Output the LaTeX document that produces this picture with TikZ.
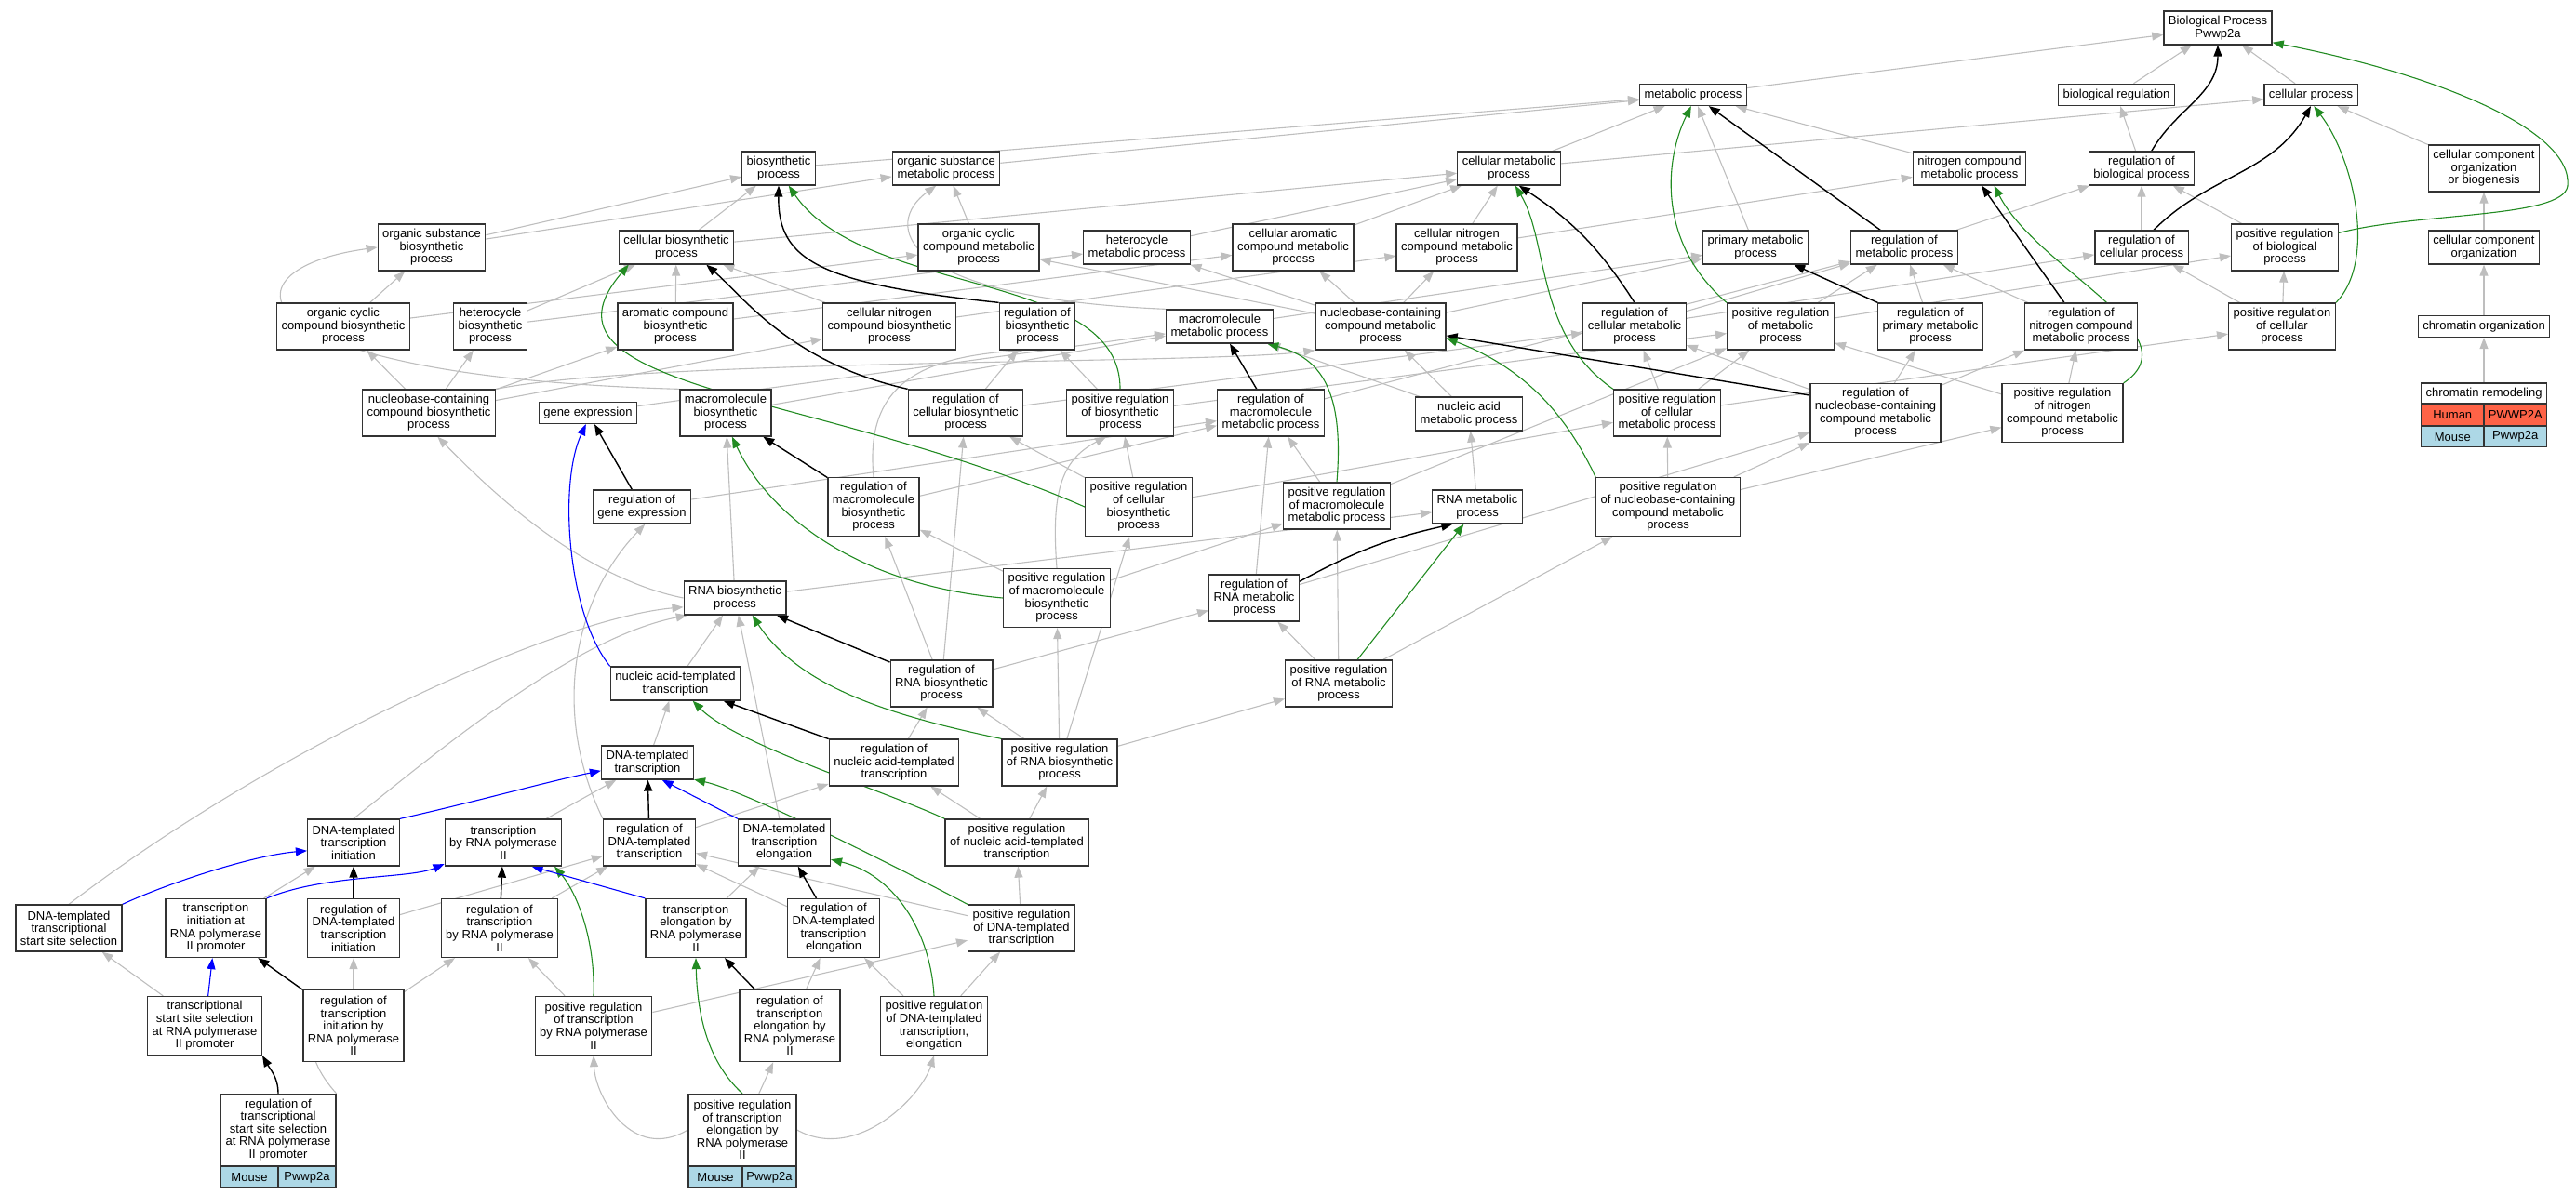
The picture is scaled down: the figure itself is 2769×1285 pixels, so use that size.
\documentclass[tikz,border=0pt]{standalone}
\usepackage{fontspec}
\setmainfont{Liberation Sans}
\usetikzlibrary{arrows.meta,backgrounds}
\definecolor{isagray}{HTML}{BEBEBE}
\definecolor{posgreen}{HTML}{228B22}
\definecolor{humanred}{HTML}{FF6347}
\definecolor{mouseblue}{HTML}{ADD8E6}
\tikzset{
  term/.style={draw=black!80, line width=1.3pt, fill=white, align=center, inner xsep=5pt, inner ysep=0pt, font=\fontsize{13}{13.6}\selectfont},
  h1/.style={term, minimum height=23pt},
  h2/.style={term, minimum height=36pt},
  h3/.style={term, minimum height=50pt},
  h4/.style={term, minimum height=63pt},
  h5/.style={term, minimum height=77pt},
  species/.style={term, minimum height=22pt, inner xsep=0pt},
  isa/.style={draw=isagray, line width=1.1pt, -{Triangle[length=12pt,width=9pt]}},
  regby/.style={isa, draw=black, line width=1.4pt},
  posby/.style={isa, draw=posgreen},
  partof/.style={isa, draw=blue}
}
\begin{document}
\begin{tikzpicture}[x=1pt,y=-1pt]
\useasboundingbox (0,0) rectangle (2769,1285);
% top rows
\node[h2] (root) at (2384,30) {Biological Process\\Pwwp2a};
\node[h1] (metab) at (1820,102) {metabolic process};
\node[h1] (biolreg) at (2275,102) {biological regulation};
\node[h1] (cellproc) at (2484,102) {cellular process};
\node[h2] (biosyn) at (837,181) {biosynthetic\\process};
\node[h2] (orgsubmet) at (1017,181) {organic substance\\metabolic process};
\node[h2] (cellmet) at (1622,181) {cellular metabolic\\process};
\node[h2] (nitmet) at (2117,181) {nitrogen compound\\metabolic process};
\node[h2] (regbiol) at (2302,181) {regulation of\\biological process};
\node[h3] (ccob) at (2670,181) {cellular component\\organization\\or biogenesis};
\node[h3] (orgsubbio) at (464,266) {organic substance\\biosynthetic\\process};
\node[h2] (cellbio) at (727,266) {cellular biosynthetic\\process};
\node[h3] (orgcycmet) at (1052,266) {organic cyclic\\compound metabolic\\process};
\node[h2] (hetmet) at (1222,266) {heterocycle\\metabolic process};
\node[h3] (cellaromet) at (1390,266) {cellular aromatic\\compound metabolic\\process};
\node[h3] (cellnitmet) at (1566,266) {cellular nitrogen\\compound metabolic\\process};
\node[h2] (primet) at (1887,266) {primary metabolic\\process};
\node[h2] (regmet) at (2047,266) {regulation of\\metabolic process};
\node[h2] (regcell) at (2302,266) {regulation of\\cellular process};
\node[h3] (posregbiol) at (2456,266) {positive regulation\\of biological\\process};
\node[h2] (ccorg) at (2670,266) {cellular component\\organization};
\coordinate (rootbend) at (2760,200);
% middle rows
\node[h3] (orgcycbio) at (369,351) {organic cyclic\\compound biosynthetic\\process};
\node[h3] (hetbio) at (527,351) {heterocycle\\biosynthetic\\process};
\node[h3] (arobio) at (726,351) {aromatic compound\\biosynthetic\\process};
\node[h3] (cellnitbio) at (956,351) {cellular nitrogen\\compound biosynthetic\\process};
\node[h3] (regbio) at (1115,351) {regulation of\\biosynthetic\\process};
\node[h2] (macmet) at (1311,351) {macromolecule\\metabolic process};
\node[h3] (nucmet) at (1484,351) {nucleobase-containing\\compound metabolic\\process};
\node[h3] (regcellmet) at (1757,351) {regulation of\\cellular metabolic\\process};
\node[h3] (posregmet) at (1914,351) {positive regulation\\of metabolic\\process};
\node[h3] (regprimet) at (2075,351) {regulation of\\primary metabolic\\process};
\node[h3] (regnitmet) at (2237,351) {regulation of\\nitrogen compound\\metabolic process};
\node[h3] (posregcell) at (2453,351) {positive regulation\\of cellular\\process};
\node[h1] (chromorg) at (2670,351) {chromatin organization};
\node[h3] (nucbio) at (461,444) {nucleobase-containing\\compound biosynthetic\\process};
\node[h1] (geneexp) at (632,444) {gene expression};
\node[h3] (macbio) at (780,444) {macromolecule\\biosynthetic\\process};
\node[h3] (regcellbio) at (1038,444) {regulation of\\cellular biosynthetic\\process};
\node[h3] (posregbio) at (1204,444) {positive regulation\\of biosynthetic\\process};
\node[h3] (regmacmet) at (1366,444) {regulation of\\macromolecule\\metabolic process};
\node[h2] (nucacidmet) at (1579,445) {nucleic acid\\metabolic process};
\node[h3] (posregcellmet) at (1792,444) {positive regulation\\of cellular\\metabolic process};
\node[h4] (regnucmet) at (2016,444) {regulation of\\nucleobase-containing\\compound metabolic\\process};
\node[h4] (posregnitmet) at (2217,444) {positive regulation\\of nitrogen\\compound metabolic\\process};
\node[species, minimum width=135pt] (chromrem) at (2670,423) {chromatin remodeling};
\node[species, fill=humanred, minimum width=67.5pt, anchor=north west] (chromremhs) at (chromrem.south west) {Human};
\node[species, fill=humanred, minimum width=67.5pt, anchor=north east] (chromremhg) at (chromrem.south east) {PWWP2A};
\node[species, fill=mouseblue, minimum width=67.5pt, anchor=north west] (chromremms) at (chromremhs.south west) {Mouse};
\node[species, fill=mouseblue, minimum width=67.5pt, anchor=north east] (chromremmg) at (chromremhg.south east) {Pwwp2a};
\node[h2] (regge) at (690,545) {regulation of\\gene expression};
\node[h4] (regmacbio) at (939,545) {regulation of\\macromolecule\\biosynthetic\\process};
\node[h4] (posregcellbio) at (1224,545) {positive regulation\\of cellular\\biosynthetic\\process};
\node[h3] (posregmacmet) at (1437,544) {positive regulation\\of macromolecule\\metabolic process};
\node[h2] (rnamet) at (1588,545) {RNA metabolic\\process};
\node[h4] (posregnucmet) at (1793,545) {positive regulation\\of nucleobase-containing\\compound metabolic\\process};
\node[h2] (rnabio) at (790,643) {RNA biosynthetic\\process};
\node[h4] (posregmacbio) at (1136,643) {positive regulation\\of macromolecule\\biosynthetic\\process};
\node[h3] (regrnamet) at (1348,643) {regulation of\\RNA metabolic\\process};
\node[h2] (nat) at (726,735) {nucleic acid-templated\\transcription};
\node[h3] (regrnabio) at (1012,735) {regulation of\\RNA biosynthetic\\process};
\node[h3] (posregrnamet) at (1439,735) {positive regulation\\of RNA metabolic\\process};
% transcription rows
\node[h2] (dnat) at (696,820) {DNA-templated\\transcription};
\node[h3] (regnat) at (961,820) {regulation of\\nucleic acid-templated\\transcription};
\node[h3] (posregrnabio) at (1139,820) {positive regulation\\of RNA biosynthetic\\process};
\node[h3] (dnainit) at (380,906) {DNA-templated\\transcription\\initiation};
\node[h3] (trpol2) at (541,906) {transcription\\by RNA polymerase\\II};
\node[h3] (regdnat) at (698,906) {regulation of\\DNA-templated\\transcription};
\node[h3] (dnaelong) at (843,906) {DNA-templated\\transcription\\elongation};
\node[h3] (posregnat) at (1093,906) {positive regulation\\of nucleic acid-templated\\transcription};
\node[h3] (tssel) at (74,998) {DNA-templated\\transcriptional\\start site selection};
\node[h4] (trinit) at (232,998) {transcription\\initiation at\\RNA polymerase\\II promoter};
\node[h4] (regdnainit) at (380,998) {regulation of\\DNA-templated\\transcription\\initiation};
\node[h4] (regtrpol2) at (537,998) {regulation of\\transcription\\by RNA polymerase\\II};
\node[h4] (trelong) at (748,998) {transcription\\elongation by\\RNA polymerase\\II};
\node[h4] (regdnaelong) at (896,998) {regulation of\\DNA-templated\\transcription\\elongation};
\node[h3] (posregdnat) at (1098,998) {positive regulation\\of DNA-templated\\transcription};
\node[h4] (tsselpol2) at (220,1103) {transcriptional\\start site selection\\at RNA polymerase\\II promoter};
\node[h5] (regtrinit) at (380,1103) {regulation of\\transcription\\initiation by\\RNA polymerase\\II};
\node[h4] (posregtrpol2) at (638,1103) {positive regulation\\of transcription\\by RNA polymerase\\II};
\node[h5] (regtrelong) at (849,1103) {regulation of\\transcription\\elongation by\\RNA polymerase\\II};
\node[h4] (posregdnaelong) at (1004,1103) {positive regulation\\of DNA-templated\\transcription,\\elongation};
\node[h5, minimum width=124pt] (regtssel) at (299,1215) {regulation of\\transcriptional\\start site selection\\at RNA polymerase\\II promoter};
\node[species, fill=mouseblue, minimum width=62pt, anchor=north west] (regtsselms) at (regtssel.south west) {Mouse};
\node[species, fill=mouseblue, minimum width=62pt, anchor=north east] (regtsselmg) at (regtssel.south east) {Pwwp2a};
\node[h5, minimum width=116pt] (posregtrelong) at (798,1215) {positive regulation\\of transcription\\elongation by\\RNA polymerase\\II};
\node[species, fill=mouseblue, minimum width=58pt, anchor=north west] (posregtrelongms) at (posregtrelong.south west) {Mouse};
\node[species, fill=mouseblue, minimum width=58pt, anchor=north east] (posregtrelongmg) at (posregtrelong.south east) {Pwwp2a};
\begin{scope}[on background layer]
% is_a
\foreach \a/\b in {metab/root, biolreg/root, cellproc/root, regbiol/biolreg, cellmet/metab, primet/metab, nitmet/metab, biosyn/metab, orgsubmet/metab, cellmet/cellproc, ccob/cellproc, ccorg/ccob, chromorg/ccorg, chromrem/chromorg, regcell/regbiol, posregbiol/regbiol, regmet/regbiol, posregcell/regcell, posregcell/posregbiol, posregmet/posregbiol, regcellmet/regcell, posregcellmet/posregcell}
  \draw[isa] (\a) -- (\b);
\foreach \a/\b in {regnitmet/regmet, posregnitmet/regnitmet, posregnitmet/posregmet, regcellmet/regmet, posregmet/regmet, regprimet/regmet, regmacmet/regmet, posregcellmet/regcellmet, posregcellmet/posregmet, regnucmet/regcellmet, regnucmet/regprimet, regnucmet/regnitmet, posregnucmet/regnucmet, posregnucmet/posregcellmet, posregnucmet/posregnitmet, posregrnamet/regrnamet, posregrnamet/posregmacmet, posregrnamet/posregnucmet, regrnamet/regnucmet, regrnamet/regmacmet}
  \draw[isa] (\a) -- (\b);
\foreach \a/\b in {regrnabio/regrnamet, regrnabio/regmacbio, regrnabio/regcellbio, posregrnabio/regrnabio, posregrnabio/posregmacbio, posregrnabio/posregcellbio, posregrnabio/posregrnamet, posregmacbio/regmacbio, posregmacbio/posregmacmet, regmacbio/regmacmet, regge/regmacmet, regcellbio/regbio, regcellbio/regcellmet, posregbio/regbio, posregbio/posregmet, posregcellbio/regcellbio, posregcellbio/posregbio, posregcellbio/posregcellmet, posregmacmet/regmacmet, posregmacmet/posregmet}
  \draw[isa] (\a) -- (\b);
\foreach \a/\b in {macmet/primet, macbio/macmet, cellbio/biosyn, cellbio/cellmet, orgsubbio/biosyn, orgsubbio/orgsubmet, orgcycbio/orgsubbio, orgcycbio/orgcycmet, hetbio/cellbio, hetbio/hetmet, arobio/cellbio, arobio/cellaromet, cellnitbio/cellbio, cellnitbio/cellnitmet, nucbio/orgcycbio, nucbio/hetbio, nucbio/arobio, nucbio/cellnitbio, orgcycmet/orgsubmet, hetmet/cellmet, cellaromet/cellmet, cellnitmet/cellmet, cellnitmet/nitmet, nucmet/orgcycmet, nucmet/hetmet, nucmet/cellaromet, nucmet/cellnitmet, nucmet/primet, nucacidmet/nucmet, nucacidmet/macmet, rnamet/nucacidmet, geneexp/macmet}
  \draw[isa] (\a) -- (\b);
\foreach \a/\b in {rnabio/rnamet, rnabio/macbio, nat/rnabio, dnat/nat, trpol2/dnat, regdnat/regnat, dnaelong/rnabio, regdnainit/regdnat, regtrpol2/regdnat, regdnaelong/regdnat, posregdnat/regdnat, trelong/dnaelong, posregdnat/posregnat, posregnat/regnat, posregnat/posregrnabio, regnat/regrnabio, posregtrpol2/regtrpol2, posregtrpol2/posregdnat, regtrinit/regdnainit, regtrinit/regtrpol2, tsselpol2/tssel, trinit/dnainit, regtrelong/regdnaelong, posregdnaelong/regdnaelong, posregdnaelong/posregdnat, posregtrelong/regtrelong}
  \draw[isa] (\a) -- (\b);
\draw[isa] (macbio.north west) .. controls (250,405) and (230,290) .. (orgsubbio.west);
\draw[isa] (nucbio.north east) .. controls (700,385) and (1300,392) .. (nucmet.south west);
\draw[isa] (rnabio.west) .. controls (620,620) and (520,520) .. (nucbio.-70);
\draw[isa] (regdnat.north west) .. controls (590,760) and (620,640) .. (regge.-80);
\draw[isa] (tssel.north) .. controls (300,800) and (600,665) .. (rnabio.-170);
\draw[isa] (dnainit.north) .. controls (480,800) and (620,685) .. (rnabio.-160);
\draw[isa] (regmacbio.north) .. controls (930,420) and (980,385) .. (regbio.-120);
\draw[isa] (macmet.north west) .. controls (960,320) and (950,240) .. (orgsubmet.-120);
\draw[isa] (posregmacbio.north) .. controls (1130,530) and (1140,495) .. (posregbio.-120);
\draw[isa] (regtssel.north east) .. controls (320,1130) and (340,1100) .. (regtrinit.west);
\draw[isa] (posregtrelong.west) .. controls (680,1250) and (640,1180) .. (posregtrpol2.south);
\draw[isa] (posregtrelong.east) .. controls (920,1250) and (990,1180) .. (posregdnaelong.south);
% regulates
\draw[regby] (regbiol.60) to[out=60,in=-90] (root.south);
\draw[regby] (regcell.55) to[out=45,in=-120] (cellproc.south);
\draw[regby] (regmet) -- (metab);
\draw[regby] (regcellmet.north) to[bend right=12] (cellmet.-60);
\draw[regby] (regprimet) -- (primet);
\draw[regby] (regbio.north west) .. controls (880,305) and (836,280) .. (biosyn.south);
\draw[regby] (regcellbio.north west) .. controls (850,390) and (800,320) .. (cellbio.-30);
\draw[regby] (regnitmet) -- (nitmet);
\draw[regby] (regmacmet) -- (macmet);
\draw[regby] (regnucmet.165) -- (nucmet.-8);
\draw[regby] (regge) -- (geneexp);
\draw[regby] (regmacbio) -- (macbio);
\draw[regby] (regrnamet.20) to[bend left=8] (rnamet.-145);
\draw[regby] (regrnabio) -- (rnabio);
\draw[regby] (regnat) -- (nat);
\draw[regby] (regdnat) -- (dnat);
\draw[regby] (regdnainit) -- (dnainit);
\draw[regby] (regtrpol2) -- (trpol2);
\draw[regby] (regdnaelong) -- (dnaelong);
\draw[regby] (regtrinit) -- (trinit);
\draw[regby] (regtrelong) -- (trelong);
\draw[regby] (regtssel.north) to[out=90,in=-60] (tsselpol2.south east);
% positively regulates
\draw[posby] (posregbiol.15) .. controls (2600,228) and (2755,235) .. (rootbend) .. controls (2766,140) and (2620,80) .. (root.-15);
\draw[posby] (posregcell.north east) .. controls (2555,280) and (2530,170) .. (cellproc.-75);
\draw[posby] (posregmet.north west) .. controls (1780,260) and (1790,170) .. (metab.-100);
\draw[posby] (posregcellmet.north west) .. controls (1650,360) and (1665,260) .. (cellmet.-70);
\draw[posby] (posregbio.north) .. controls (1205,290) and (930,320) .. (biosyn.-60);
\draw[posby] (posregcellbio.west) .. controls (880,420) and (560,420) .. (cellbio.-160);
\draw[posby] (posregnitmet.north east) .. controls (2360,360) and (2190,290) .. (nitmet.-35);
\draw[posby] (posregmacmet.north) .. controls (1445,420) and (1420,385) .. (macmet.-20);
\draw[posby] (posregnucmet.north west) .. controls (1690,460) and (1650,400) .. (nucmet.-10);
\draw[posby] (posregmacbio.west) .. controls (930,630) and (830,560) .. (macbio.-75);
\draw[posby] (posregrnamet) -- (rnamet);
\draw[posby] (posregrnabio.north west) .. controls (960,770) and (860,740) .. (rnabio.-45);
\draw[posby] (posregnat.north west) .. controls (950,850) and (790,800) .. (nat.-45);
\draw[posby] (posregdnat.north west) .. controls (960,930) and (800,850) .. (dnat.-20);
\draw[posby] (posregtrpol2.north) .. controls (640,1010) and (620,960) .. (trpol2.-25);
\draw[posby] (posregdnaelong.north) .. controls (1000,1000) and (960,940) .. (dnaelong.-20);
\draw[posby] (posregtrelong.north) .. controls (770,1150) and (750,1110) .. (trelong.south);
% part of
\draw[partof] (nat.north west) .. controls (610,660) and (600,520) .. (geneexp.-100);
\draw[partof] (dnainit.north east) .. controls (520,860) and (590,840) .. (dnat.-170);
\draw[partof] (dnaelong.north west) -- (dnat.-50);
\draw[partof] (tssel.north east) .. controls (180,950) and (270,920) .. (dnainit.-170);
\draw[partof] (trinit.north east) .. controls (350,940) and (440,945) .. (trpol2.-160);
\draw[partof] (tsselpol2) -- (trinit);
\draw[partof] (trelong.north west) -- (trpol2.-40);
\end{scope}
\end{tikzpicture}
\end{document}
